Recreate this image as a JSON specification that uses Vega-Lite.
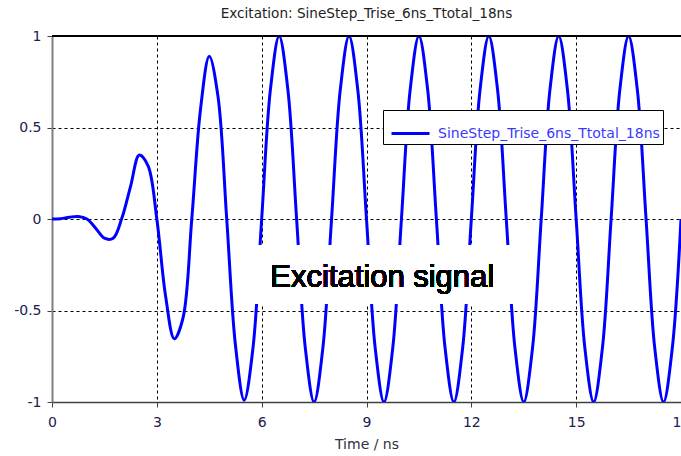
{
  "$schema": "https://vega.github.io/schema/vega-lite/v6.json",
  "autosize": {"type": "none"},
  "width": 629,
  "height": 366,
  "padding": {"left": 52, "top": 36, "right": 0, "bottom": 54},
  "background": "white",
  "title": {
    "text": "Excitation: SineStep_Trise_6ns_Ttotal_18ns",
    "font": "DejaVu Sans",
    "fontSize": 13.6,
    "fontWeight": "normal",
    "color": "#222222",
    "anchor": "middle",
    "frame": "group",
    "offset": 8
  },
  "config": {
    "view": {"stroke": null},
    "axis": {
      "labelFont": "DejaVu Sans",
      "labelFontSize": 14,
      "labelColor": "#202050",
      "labelFlush": false,
      "titleFont": "DejaVu Sans",
      "titleFontSize": 14,
      "titleFontWeight": "normal",
      "titleColor": "#303040",
      "grid": true,
      "gridColor": "#000000",
      "gridOpacity": 1,
      "gridWidth": 1,
      "gridDash": [3, 3],
      "tickSize": 5,
      "tickColor": "#404040",
      "tickWidth": 1
    }
  },
  "data": {
    "values": [
      {"t": 0, "v": 0}, {"t": 0.25, "v": 0.002}, {"t": 0.5, "v": 0.01}, {"t": 0.75, "v": 0.014},
      {"t": 1, "v": 0}, {"t": 1.25, "v": -0.05}, {"t": 1.5, "v": -0.105}, {"t": 1.75, "v": -0.105},
      {"t": 2, "v": 0.005}, {"t": 2.25, "v": 0.18}, {"t": 2.5, "v": 0.35}, {"t": 2.75, "v": 0.29},
      {"t": 3, "v": 0}, {"t": 3.25, "v": -0.42}, {"t": 3.5, "v": -0.655}, {"t": 3.75, "v": -0.54},
      {"t": 4, "v": 0}, {"t": 4.25, "v": 0.6}, {"t": 4.5, "v": 0.89}, {"t": 4.75, "v": 0.67},
      {"t": 5, "v": 0}, {"t": 5.25, "v": -0.69}, {"t": 5.5, "v": -0.99}, {"t": 5.75, "v": -0.707},
      {"t": 6, "v": 0}, {"t": 6.25, "v": 0.707}, {"t": 6.5, "v": 1}, {"t": 6.75, "v": 0.707},
      {"t": 7, "v": 0}, {"t": 7.25, "v": -0.707}, {"t": 7.5, "v": -1}, {"t": 7.75, "v": -0.707},
      {"t": 8, "v": 0}, {"t": 8.25, "v": 0.707}, {"t": 8.5, "v": 1}, {"t": 8.75, "v": 0.707},
      {"t": 9, "v": 0}, {"t": 9.25, "v": -0.707}, {"t": 9.5, "v": -1}, {"t": 9.75, "v": -0.707},
      {"t": 10, "v": 0}, {"t": 10.25, "v": 0.707}, {"t": 10.5, "v": 1}, {"t": 10.75, "v": 0.707},
      {"t": 11, "v": 0}, {"t": 11.25, "v": -0.707}, {"t": 11.5, "v": -1}, {"t": 11.75, "v": -0.707},
      {"t": 12, "v": 0}, {"t": 12.25, "v": 0.707}, {"t": 12.5, "v": 1}, {"t": 12.75, "v": 0.707},
      {"t": 13, "v": 0}, {"t": 13.25, "v": -0.707}, {"t": 13.5, "v": -1}, {"t": 13.75, "v": -0.707},
      {"t": 14, "v": 0}, {"t": 14.25, "v": 0.707}, {"t": 14.5, "v": 1}, {"t": 14.75, "v": 0.707},
      {"t": 15, "v": 0}, {"t": 15.25, "v": -0.707}, {"t": 15.5, "v": -1}, {"t": 15.75, "v": -0.707},
      {"t": 16, "v": 0}, {"t": 16.25, "v": 0.707}, {"t": 16.5, "v": 1}, {"t": 16.75, "v": 0.707},
      {"t": 17, "v": 0}, {"t": 17.25, "v": -0.707}, {"t": 17.5, "v": -1}, {"t": 17.75, "v": -0.707},
      {"t": 18, "v": 0}
    ]
  },
  "layer": [
    {
      "mark": {"type": "line", "strokeWidth": 3, "interpolate": "catmull-rom", "clip": true},
      "encoding": {
        "x": {
          "field": "t", "type": "quantitative",
          "scale": {"domain": [0, 18], "nice": false, "zero": false},
          "axis": {
            "title": "Time / ns",
            "values": [0, 3, 6, 9, 12, 15, 18],
            "domainColor": "#404040",
            "domainWidth": 1.5,
            "labelPadding": 8,
            "titlePadding": 8
          }
        },
        "y": {
          "field": "v", "type": "quantitative",
          "scale": {"domain": [-1, 1], "nice": false},
          "axis": {
            "title": null,
            "values": [-1, -0.5, 0, 0.5, 1],
            "labelExpr": "'' + datum.value",
            "domainColor": "#808080",
            "domainWidth": 2,
            "labelPadding": 6
          }
        },
        "color": {
          "datum": "SineStep_Trise_6ns_Ttotal_18ns",
          "type": "nominal",
          "scale": {"range": ["#0000ff"]},
          "legend": {
            "title": null,
            "orient": "none",
            "legendX": 331,
            "legendY": 74,
            "symbolType": "stroke",
            "symbolSize": 1444,
            "symbolStrokeWidth": 3,
            "symbolOffset": 4,
            "labelFont": "DejaVu Sans",
            "labelFontSize": 14,
            "labelColor": "#3a3aff",
            "labelOffset": 7,
            "strokeColor": "#000000",
            "fillColor": "white",
            "padding": 3,
            "labelLimit": 400
          }
        }
      }
    },
    {
      "mark": {"type": "rect", "fill": "white"},
      "encoding": {
        "x": {"datum": 5.8, "type": "quantitative"},
        "x2": {"datum": 13.37},
        "y": {"datum": -0.142, "type": "quantitative"},
        "y2": {"datum": -0.464}
      }
    },
    {
      "mark": {"type": "text", "text": "Excitation signal", "font": "Liberation Sans", "fontSize": 31, "fill": "#000000", "strokeWidth": 0, "align": "center", "baseline": "alphabetic"},
      "encoding": {
        "x": {"datum": 9.45, "type": "quantitative"},
        "y": {"datum": -0.372, "type": "quantitative"}
      }
    },
    {
      "mark": {"type": "rule", "color": "#000000", "strokeWidth": 1.5},
      "encoding": {
        "y": {"datum": 1, "type": "quantitative"}
      }
    }
  ]
}
